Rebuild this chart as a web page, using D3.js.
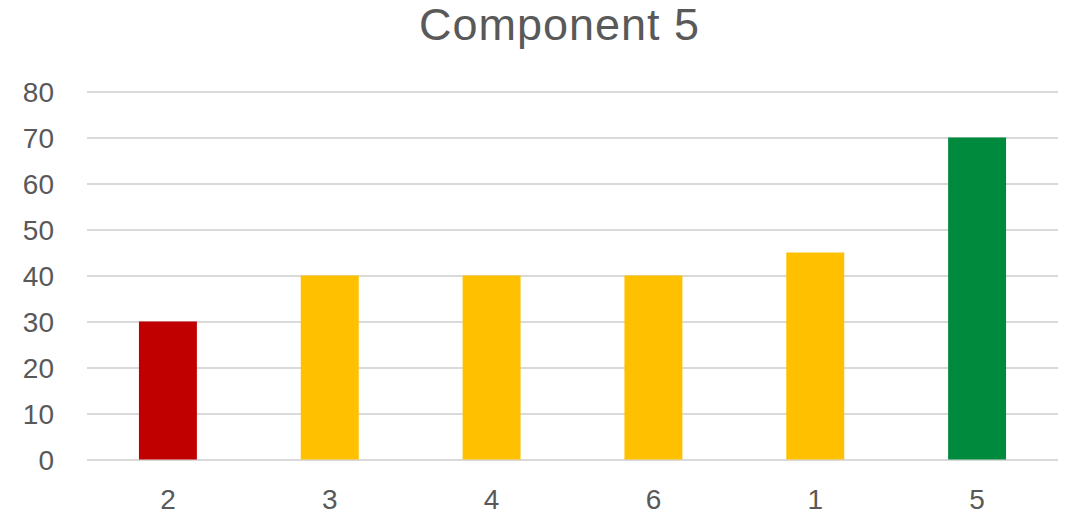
<!DOCTYPE html>
<head>
  <meta charset="utf-8">
  <script src="https://d3js.org/d3.v7.min.js"></script>
  <style>
    body { margin: 0; background: #fff; }
    text { font-family: "Liberation Sans", Arial, sans-serif; fill: #595959; }
    .grid line { stroke: #d9d9d9; stroke-width: 2px; shape-rendering: crispEdges; }
  </style>
</head>
<body>
  <script>
    const categories = ["2", "3", "4", "6", "1", "5"];
    const values = [30, 40, 40, 40, 45, 70];
    const barColors = ["#c00000", "#ffc000", "#ffc000", "#ffc000", "#ffc000", "#008a3e"];
    const yTicks = [0, 10, 20, 30, 40, 50, 60, 70, 80];
    const title = "Component 5";

    const W = 1071, H = 514;
    const plot = {left: 87, right: 1058, top: 91.5, bottom: 459.5};

    const svg = d3.select("body").append("svg")
        .attr("width", W)
        .attr("height", H);

    const x = d3.scaleBand().domain(categories).range([plot.left, plot.right])
        .paddingInner(0.642).paddingOuter(0.321);
    const y = d3.scaleLinear().domain([0, 80]).range([plot.bottom, plot.top]);

    svg.append("text")
        .attr("x", 559).attr("y", 40)
        .attr("text-anchor", "middle")
        .style("font-size", "45px")
        .attr("textLength", 280)
        .text(title);

    svg.append("g").attr("class", "grid")
        .selectAll("line").data(yTicks).enter().append("line")
        .attr("x1", plot.left).attr("x2", plot.right)
        .attr("y1", d => y(d)).attr("y2", d => y(d));

    svg.selectAll(".ylab").data(yTicks).enter().append("text")
        .attr("class", "ylab")
        .attr("x", 54).attr("y", d => y(d) + 10)
        .attr("text-anchor", "end")
        .style("font-size", "28px")
        .text(d => d);

    svg.selectAll(".bar").data(values).enter().append("rect")
        .attr("class", "bar")
        .attr("x", (d, i) => x(categories[i]))
        .attr("width", x.bandwidth())
        .attr("y", d => y(d))
        .attr("height", d => y(0) - y(d))
        .style("fill", (d, i) => barColors[i]);

    svg.selectAll(".xlab").data(categories).enter().append("text")
        .attr("class", "xlab")
        .attr("x", d => x(d) + x.bandwidth() / 2)
        .attr("y", 509)
        .attr("text-anchor", "middle")
        .style("font-size", "28px")
        .text(d => d);
  </script>
</body>
